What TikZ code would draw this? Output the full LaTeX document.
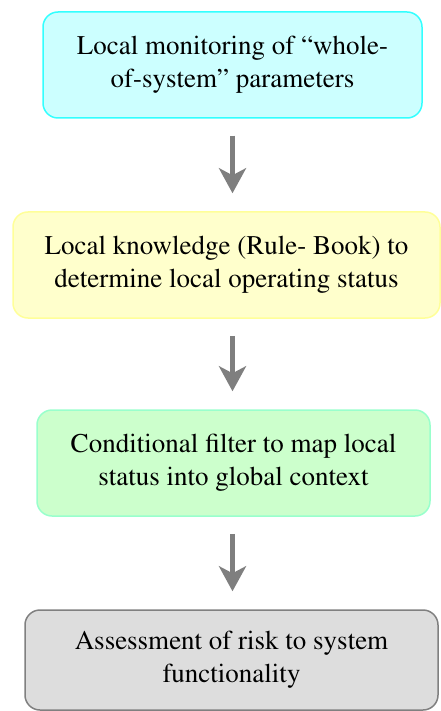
\documentclass[tikz,border=0pt]{standalone}
\usepackage[T1]{fontenc}
\usepackage{times}
\usetikzlibrary{arrows.meta}
\definecolor{cyanfill}{HTML}{CCFFFF}
\definecolor{cyanline}{HTML}{33FFFF}
\definecolor{yelfill}{HTML}{FFFFCC}
\definecolor{yelline}{HTML}{FFFF99}
\definecolor{grnfill}{HTML}{CCFFCC}
\definecolor{grnline}{HTML}{99FFCC}
\definecolor{grayfill}{HTML}{DDDDDD}
\definecolor{grayline}{HTML}{808080}
\definecolor{arrowgray}{HTML}{7F7F7F}
\tikzset{
  stagebox/.style={rounded corners=15pt, line width=1.5pt, align=center,
    inner sep=0pt, font=\rmfamily\fontsize{27}{33}\selectfont},
  flow/.style={draw=arrowgray, line width=5pt,
    -{Stealth[length=25pt,width=27pt,inset=7pt]},
    shorten <=17pt, shorten >=18pt}
}
\begin{document}
\begin{tikzpicture}[x=1pt,y=1pt]
\useasboundingbox (0,0) rectangle (441,-711);
\node[stagebox, draw=cyanline, fill=cyanfill, minimum width=379pt, minimum height=106pt]
  (b1) at (232.5,-65) {Local monitoring of ``whole-\\of-system'' parameters};
\node[stagebox, draw=yelline, fill=yelfill, minimum width=427pt, minimum height=106pt]
  (b2) at (226.5,-265) {Local knowledge (Rule- Book) to\\determine local operating status};
\node[stagebox, draw=grnline, fill=grnfill, minimum width=393pt, minimum height=106pt]
  (b3) at (233.5,-463) {Conditional filter to map local\\status into global context};
\node[stagebox, draw=grayline, fill=grayfill, minimum width=413pt, minimum height=100pt]
  (b4) at (231.5,-660) {Assessment of risk to system\\functionality};
\draw[flow] (b1.south) -- (b1.south |- b2.north);
\draw[flow] (b2.south -| b1.south) -- (b1.south |- b3.north);
\draw[flow] (b3.south -| b1.south) -- (b1.south |- b4.north);
\end{tikzpicture}
\end{document}
